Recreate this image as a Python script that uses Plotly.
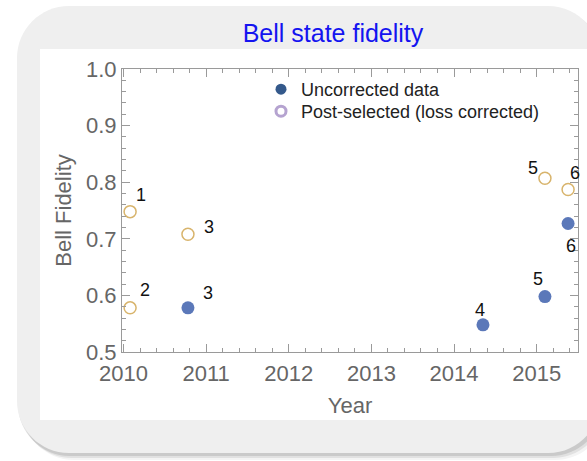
import plotly.graph_objects as go

# Bell state fidelity by year
# post-selected (loss corrected) results
post_year = [2010.08, 2010.08, 2010.78, 2015.10, 2015.38]
post_fid = [0.748, 0.578, 0.708, 0.807, 0.787]
post_ref = ["1", "2", "3", "5", "6"]

# uncorrected results
raw_year = [2010.78, 2014.35, 2015.10, 2015.38]
raw_fid = [0.578, 0.548, 0.598, 0.727]
raw_ref = ["3", "4", "5", "6"]

year_ticks = [2010, 2011, 2012, 2013, 2014, 2015]
fid_ticks = [0.5, 0.6, 0.7, 0.8, 0.9, 1.0]

W, H = 587, 461
PL, PR, PT, PB = 122, 578, 69, 352   # plot frame in pixels

FONT = "Arial, Liberation Sans, sans-serif"
RAW_COLOR = "#5b78b9"
POST_COLOR = "#d8b46c"
AXIS_GRAY = "#9a9a9a"


def px(X):
    return (X - PL) / (PR - PL)


def py(Y):
    return (PB - Y) / (PB - PT)


def rounded_rect(x0, y0, x1, y1, r):
    k = 0.5523 * r

    def p(X, Y):
        return f"{px(X):.5f},{py(Y):.5f}"

    return (
        f"M {p(x0 + r, y0)} L {p(x1 - r, y0)} "
        f"C {p(x1 - r + k, y0)} {p(x1, y0 + r - k)} {p(x1, y0 + r)} "
        f"L {p(x1, y1 - r)} "
        f"C {p(x1, y1 - r + k)} {p(x1 - r + k, y1)} {p(x1 - r, y1)} "
        f"L {p(x0 + r, y1)} "
        f"C {p(x0 + r - k, y1)} {p(x0, y1 - r + k)} {p(x0, y1 - r)} "
        f"L {p(x0, y0 + r)} "
        f"C {p(x0, y0 + r - k)} {p(x0 + r - k, y0)} {p(x0 + r, y0)} Z"
    )


fig = go.Figure()

fig.add_trace(go.Scatter(
    x=post_year, y=post_fid, mode="markers", showlegend=False,
    marker=dict(size=12, color="rgba(0,0,0,0)",
                line=dict(color=POST_COLOR, width=1.5)),
))
fig.add_trace(go.Scatter(
    x=raw_year, y=raw_fid, mode="markers", showlegend=False,
    marker=dict(size=13, color=RAW_COLOR, line=dict(width=0)),
))

# legend entries, one legend box per row
fig.add_trace(go.Scatter(
    x=[None], y=[None], mode="markers", name="Uncorrected data",
    legend="legend",
    marker=dict(size=11, color="#34598b", line=dict(width=0)),
))
fig.add_trace(go.Scatter(
    x=[None], y=[None], mode="markers", name="Post-selected (loss corrected)",
    legend="legend2",
    marker=dict(size=10, color="rgba(0,0,0,0)",
                line=dict(color="#b5a3d0", width=3)),
))

# reference number labels
post_shift = [(11, 17), (15, 18), (21, 7), (-12, 10), (7, 17)]
raw_shift = [(20, 15), (-3, 15), (-7, 18), (3, -22)]
label_font = dict(family=FONT, size=18, color="#111")
annotations = []
for x, y, t, (dx, dy) in zip(post_year, post_fid, post_ref, post_shift):
    annotations.append(dict(x=x, y=y, text=t, showarrow=False, xshift=dx,
                            yshift=dy, font=label_font))
for x, y, t, (dx, dy) in zip(raw_year, raw_fid, raw_ref, raw_shift):
    annotations.append(dict(x=x, y=y, text=t, showarrow=False, xshift=dx,
                            yshift=dy, font=label_font))

shapes = []
# soft shadow of the rounded panel
for off, op in [(7, 0.08), (5, 0.14), (3, 0.20)]:
    shapes.append(dict(type="path", xref="paper", yref="paper", layer="below",
                       path=rounded_rect(17 + off - 2, 6 + off, 600 + off, 453 + off, 52),
                       fillcolor=f"rgba(110,110,110,{op})", line=dict(width=0)))
shapes.append(dict(type="path", xref="paper", yref="paper", layer="below",
                   path=rounded_rect(17, 6, 600, 453, 52),
                   fillcolor="#efefef", line=dict(width=0)))
shapes.append(dict(type="rect", xref="paper", yref="paper", layer="below",
                   x0=px(40), x1=px(600), y0=py(420), y1=py(49),
                   fillcolor="white", line=dict(width=0)))

axis_common = dict(
    showline=True, linecolor=AXIS_GRAY, linewidth=1, mirror="ticks",
    ticks="inside", ticklen=8, tickcolor=AXIS_GRAY, tickwidth=1,
    showgrid=False, zeroline=False,
    tickfont=dict(family=FONT, size=22, color="#666"),
)

legend_common = dict(xanchor="left", yanchor="top", bgcolor="rgba(0,0,0,0)",
                     itemwidth=30, font=dict(family=FONT, size=18, color="#222"))

fig.update_layout(
    width=W, height=H,
    margin=dict(l=PL, r=W - PR, t=PT, b=H - PB),
    paper_bgcolor="white", plot_bgcolor="white",
    title=dict(text="Bell state fidelity", x=333 / W, xanchor="center",
               y=1 - 33 / H, yanchor="middle",
               font=dict(family=FONT, size=25, color="#1414f0")),
    xaxis=dict(range=[2009.982, 2015.5], tickvals=year_ticks,
               ticktext=[str(v) for v in year_ticks],
               ticklabelstandoff=2,
               minor=dict(ticks="inside", ticklen=4, tickcolor=AXIS_GRAY,
                          dtick=0.2, showgrid=False),
               title=dict(text="Year", standoff=12,
                          font=dict(family=FONT, size=22, color="#666")),
               **axis_common),
    yaxis=dict(range=[0.5, 1.0], tickvals=fid_ticks,
               ticktext=[f"{v:.1f}" for v in fid_ticks],
               minor=dict(ticks="inside", ticklen=4, tickcolor=AXIS_GRAY,
                          dtick=0.02, showgrid=False),
               title=dict(text="Bell Fidelity", standoff=8,
                          font=dict(family=FONT, size=22, color="#666")),
               **axis_common),
    legend=dict(x=px(261), y=py(71), **legend_common),
    legend2=dict(x=px(261), y=py(93), **legend_common),
    annotations=annotations,
    shapes=shapes,
)

fig.write_html("out.html")
